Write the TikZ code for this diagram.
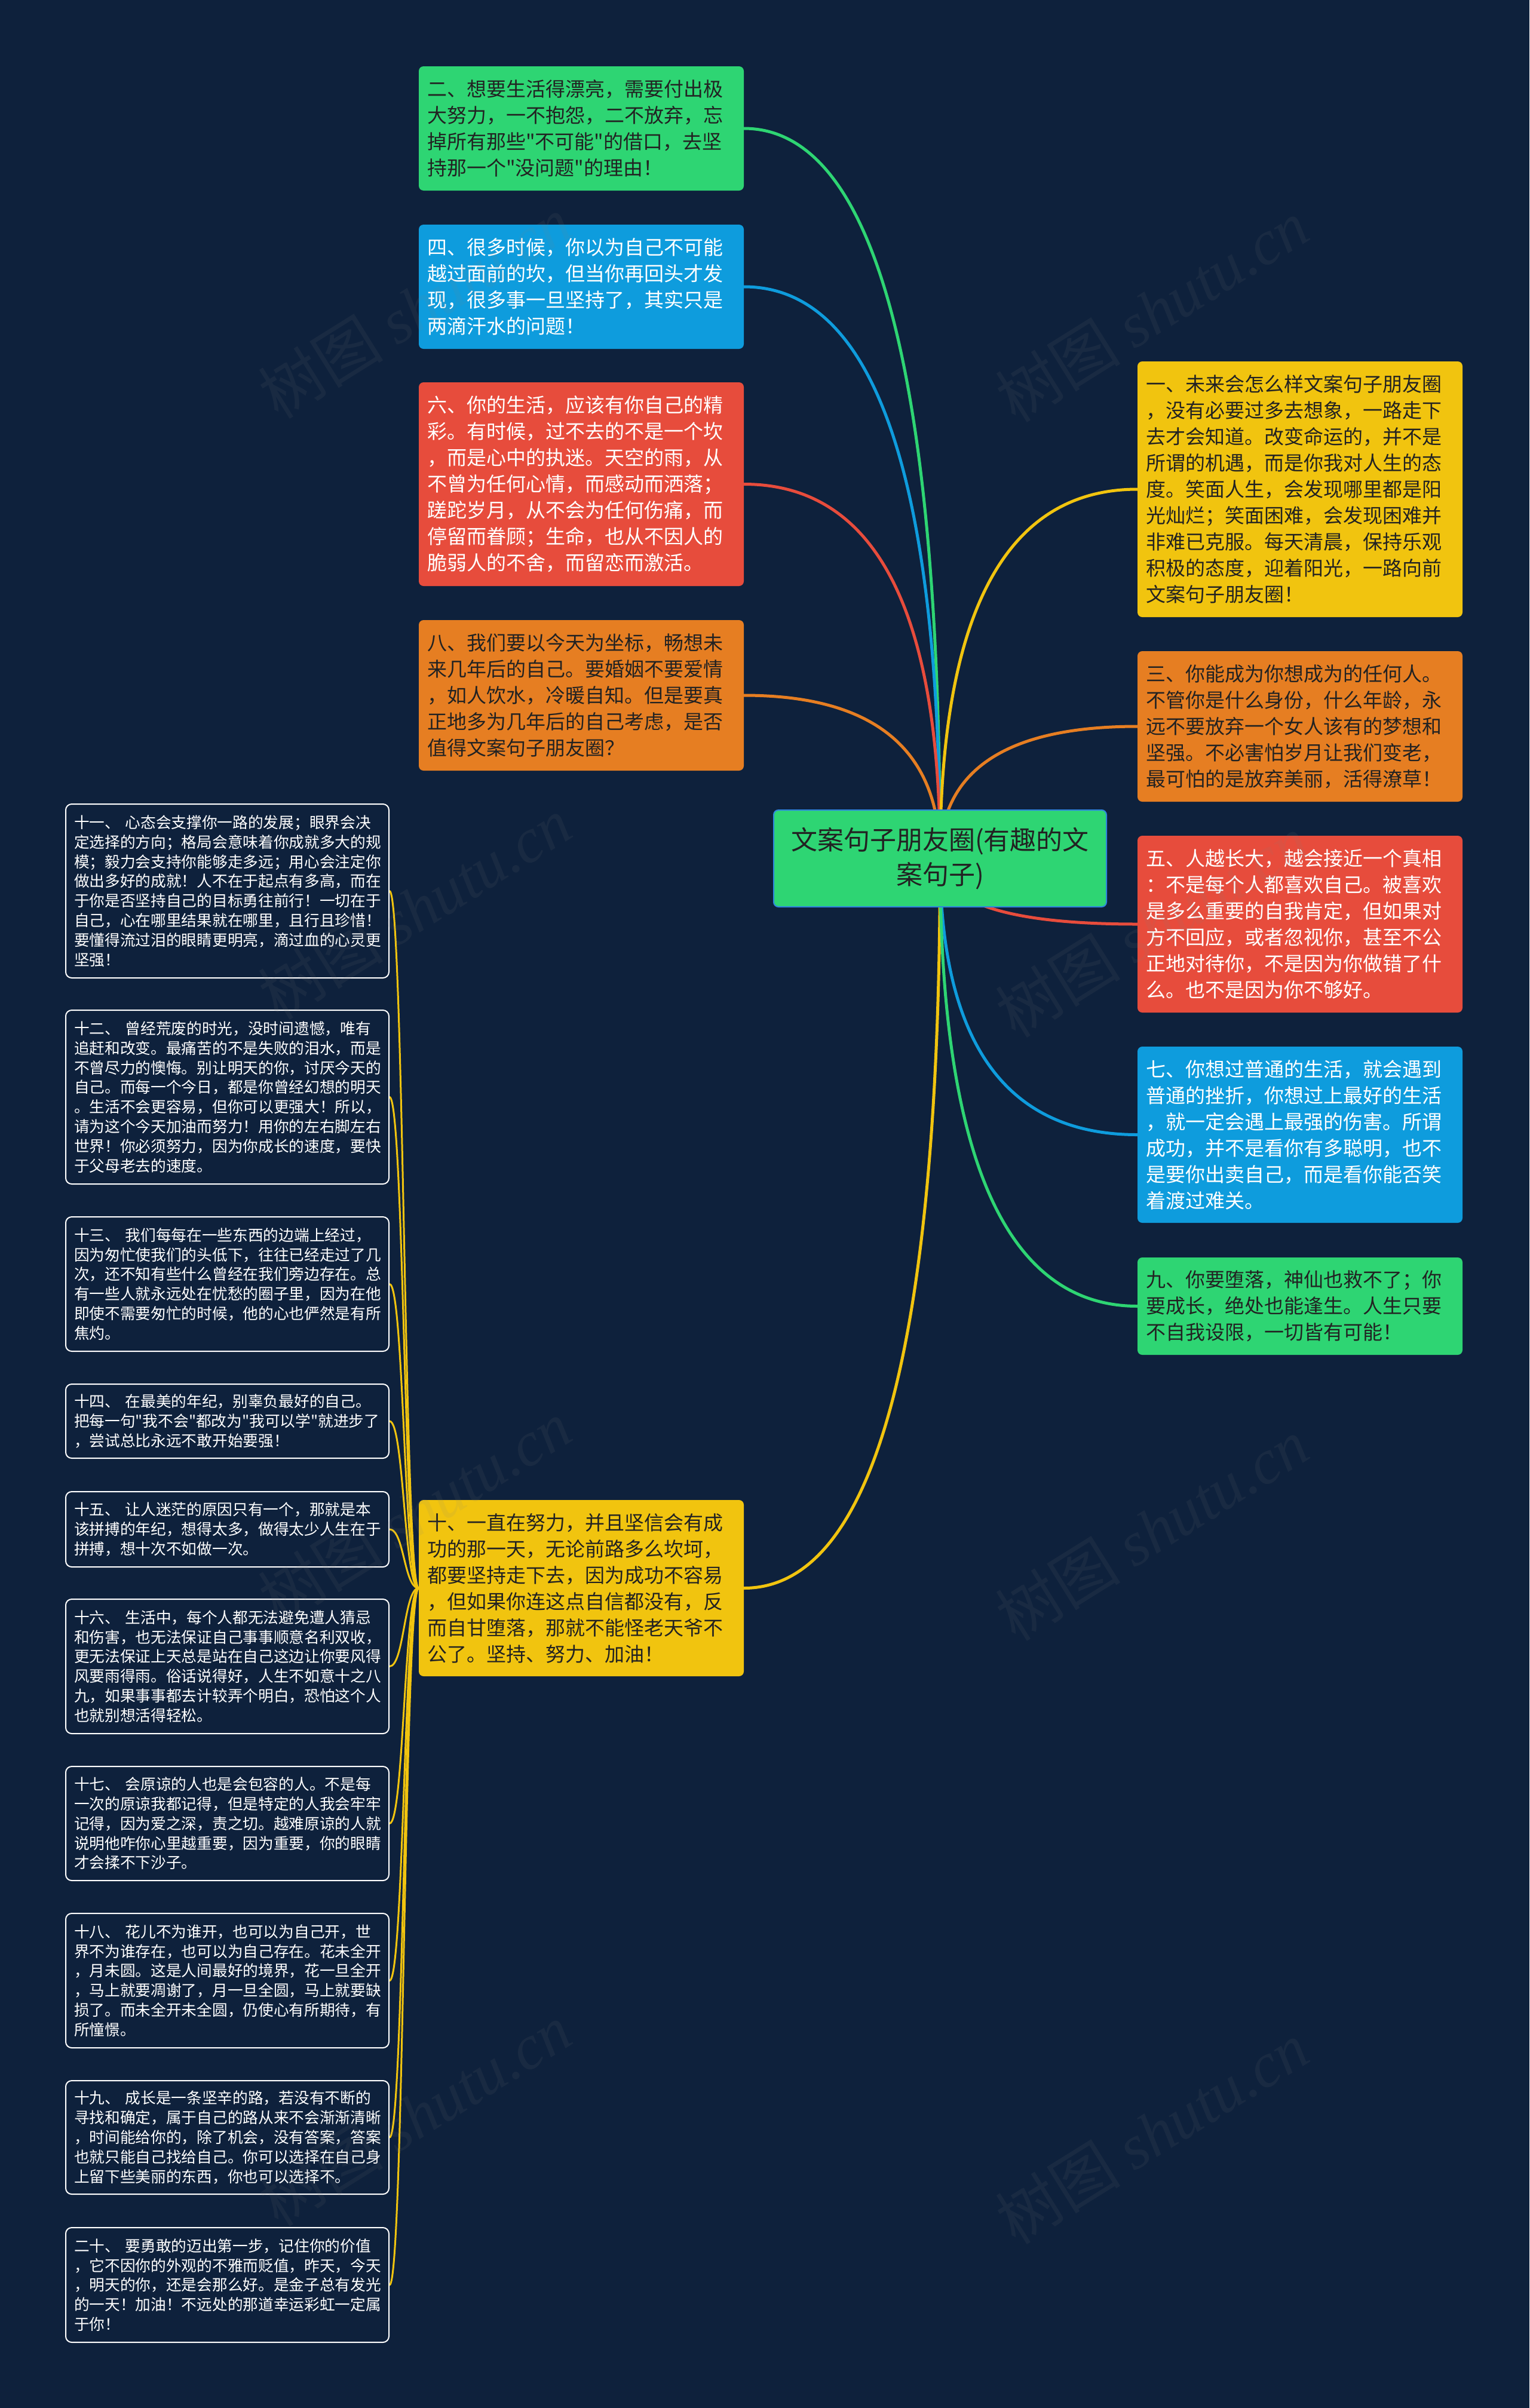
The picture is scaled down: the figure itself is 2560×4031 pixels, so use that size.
\documentclass[tikz,border=0pt]{standalone}
\usepackage{fontspec}
\newfontfamily\cjk{Noto Sans CJK SC}
\newfontfamily\wmlatin{Liberation Serif}
\usetikzlibrary{calc}
\pgfdeclarelayer{bg}
\pgfdeclarelayer{edges}
\pgfsetlayers{bg,edges,main}
\definecolor{navy}{HTML}{0E213C}
\definecolor{mgreen}{HTML}{2ED573}
\definecolor{mblue}{HTML}{0E9CDD}
\definecolor{mred}{HTML}{E74C3C}
\definecolor{morange}{HTML}{E67E22}
\definecolor{myellow}{HTML}{F1C40F}
\definecolor{darktext}{HTML}{222222}
\definecolor{rootborder}{HTML}{2E86DE}
\tikzset{
  bignode/.style={rounded corners=8pt, text width=516pt, inner xsep=14pt, inner ysep=0pt,
    align=left, font=\cjk\fontsize{33}{44}\selectfont},
  darkbox/.style={bignode, fill=#1, text=darktext},
  lightbox/.style={bignode, fill=#1, text=white},
  smallnode/.style={rounded corners=10pt, draw=white, line width=2pt, fill=navy, text=white,
    text width=513pt, inner xsep=14pt, inner ysep=0pt, align=left,
    font=\cjk\fontsize{25.7}{32.8}\selectfont},
  quadto/.style={to path={.. controls ($(\tikztostart)!0.6667!(\tikztostart |- \tikztotarget)$)
    and ($(\tikztotarget)!0.6667!(\tikztostart |- \tikztotarget)$) .. (\tikztotarget)}},
  sto/.style={to path={.. controls ($(\tikztostart)!0.5!(\tikztostart -| \tikztotarget)$)
    and ($(\tikztotarget)!0.5!(\tikztotarget -| \tikztostart)$) .. (\tikztotarget)}},
  mainedge/.style={line width=5pt, line cap=round},
  subedge/.style={line width=3pt, myellow, line cap=round},
  watermark/.style={rotate=32, text=gray, opacity=0.10, font=\cjk\fontsize{105}{110}\selectfont},
}
\begin{document}
\begin{tikzpicture}[x=1pt, y=-1pt]
\useasboundingbox (0,0) rectangle (2560,4031);
\begin{pgfonlayer}{bg}
  \fill[navy] (0,0) rectangle (2560,4031);
\end{pgfonlayer}

% root
\node[rounded corners=8pt, fill=mgreen, draw=rootborder, line width=2pt, text=darktext,
  minimum width=557pt, minimum height=162pt, align=center,
  font=\cjk\fontsize{44}{58}\selectfont] (root) at (1573.5,1437) {文案句子朋友圈(有趣的文\\案句子)};

% left main children
\node[darkbox=mgreen, minimum height=208pt] (n2) at (973,215) {二、想要生活得漂亮，需要付出极\\大努力，一不抱怨，二不放弃，忘\\掉所有那些"不可能"的借口，去坚\\持那一个"没问题"的理由！};
\node[lightbox=mblue, minimum height=208pt] (n4) at (973,480) {四、很多时候，你以为自己不可能\\越过面前的坎，但当你再回头才发\\现，很多事一旦坚持了，其实只是\\两滴汗水的问题！};
\node[lightbox=mred, minimum height=341pt] (n6) at (973,810.5) {六、你的生活，应该有你自己的精\\彩。有时候，过不去的不是一个坎\\，而是心中的执迷。天空的雨，从\\不曾为任何心情，而感动而洒落；\\蹉跎岁月，从不会为任何伤痛，而\\停留而眷顾；生命，也从不因人的\\脆弱人的不舍，而留恋而激活。};
\node[darkbox=morange, minimum height=252pt] (n8) at (973,1164) {八、我们要以今天为坐标，畅想未\\来几年后的自己。要婚姻不要爱情\\，如人饮水，冷暖自知。但是要真\\正地多为几年后的自己考虑，是否\\值得文案句子朋友圈？};
\node[darkbox=myellow, minimum height=295pt] (n10) at (973,2658.5) {十、一直在努力，并且坚信会有成\\功的那一天，无论前路多么坎坷，\\都要坚持走下去，因为成功不容易\\，但如果你连这点自信都没有，反\\而自甘堕落，那就不能怪老天爷不\\公了。坚持、努力、加油！};

% right main children
\node[darkbox=myellow, minimum height=428pt] (n1) at (2176,819) {一、未来会怎么样文案句子朋友圈\\，没有必要过多去想象，一路走下\\去才会知道。改变命运的，并不是\\所谓的机遇，而是你我对人生的态\\度。笑面人生，会发现哪里都是阳\\光灿烂；笑面困难，会发现困难并\\非难已克服。每天清晨，保持乐观\\积极的态度，迎着阳光，一路向前\\文案句子朋友圈！};
\node[darkbox=morange, minimum height=252pt] (n3) at (2176,1216) {三、你能成为你想成为的任何人。\\不管你是什么身份，什么年龄，永\\远不要放弃一个女人该有的梦想和\\坚强。不必害怕岁月让我们变老，\\最可怕的是放弃美丽，活得潦草！};
\node[lightbox=mred, minimum height=296pt] (n5) at (2176,1547) {五、人越长大，越会接近一个真相\\：不是每个人都喜欢自己。被喜欢\\是多么重要的自我肯定，但如果对\\方不回应，或者忽视你，甚至不公\\正地对待你，不是因为你做错了什\\么。也不是因为你不够好。};
\node[lightbox=mblue, minimum height=295pt] (n7) at (2176,1899.5) {七、你想过普通的生活，就会遇到\\普通的挫折，你想过上最好的生活\\，就一定会遇上最强的伤害。所谓\\成功，并不是看你有多聪明，也不\\是要你出卖自己，而是看你能否笑\\着渡过难关。};
\node[darkbox=mgreen, minimum height=163pt] (n9) at (2176,2186.5) {九、你要堕落，神仙也救不了；你\\要成长，绝处也能逢生。人生只要\\不自我设限，一切皆有可能！};

% small children of n10
\node[smallnode, minimum height=291pt] (s11) at (380.5,1491.5) {十一、 心态会支撑你一路的发展；眼界会决\\定选择的方向；格局会意味着你成就多大的规\\模；毅力会支持你能够走多远；用心会注定你\\做出多好的成就！人不在于起点有多高，而在\\于你是否坚持自己的目标勇往前行！一切在于\\自己，心在哪里结果就在哪里，且行且珍惜！\\要懂得流过泪的眼睛更明亮，滴过血的心灵更\\坚强！};
\node[smallnode, minimum height=291pt] (s12) at (380.5,1836.5) {十二、 曾经荒废的时光，没时间遗憾，唯有\\追赶和改变。最痛苦的不是失败的泪水，而是\\不曾尽力的懊悔。别让明天的你，讨厌今天的\\自己。而每一个今日，都是你曾经幻想的明天\\。生活不会更容易，但你可以更强大！所以，\\请为这个今天加油而努力！用你的左右脚左右\\世界！你必须努力，因为你成长的速度，要快\\于父母老去的速度。};
\node[smallnode, minimum height=225pt] (s13) at (380.5,2149.5) {十三、 我们每每在一些东西的边端上经过，\\因为匆忙使我们的头低下，往往已经走过了几\\次，还不知有些什么曾经在我们旁边存在。总\\有一些人就永远处在忧愁的圈子里，因为在他\\即使不需要匆忙的时候，他的心也俨然是有所\\焦灼。};
\node[smallnode, minimum height=124pt] (s14) at (380.5,2379) {十四、 在最美的年纪，别辜负最好的自己。\\把每一句"我不会"都改为"我可以学"就进步了\\，尝试总比永远不敢开始要强！};
\node[smallnode, minimum height=126pt] (s15) at (380.5,2560) {十五、 让人迷茫的原因只有一个，那就是本\\该拼搏的年纪，想得太多，做得太少人生在于\\拼搏，想十次不如做一次。};
\node[smallnode, minimum height=225pt] (s16) at (380.5,2789.5) {十六、 生活中，每个人都无法避免遭人猜忌\\和伤害，也无法保证自己事事顺意名利双收，\\更无法保证上天总是站在自己这边让你要风得\\风要雨得雨。俗话说得好，人生不如意十之八\\九，如果事事都去计较弄个明白，恐怕这个人\\也就别想活得轻松。};
\node[smallnode, minimum height=191pt] (s17) at (380.5,3052.5) {十七、 会原谅的人也是会包容的人。不是每\\一次的原谅我都记得，但是特定的人我会牢牢\\记得，因为爱之深，责之切。越难原谅的人就\\说明他咋你心里越重要，因为重要，你的眼睛\\才会揉不下沙子。};
\node[smallnode, minimum height=225pt] (s18) at (380.5,3315.5) {十八、 花儿不为谁开，也可以为自己开，世\\界不为谁存在，也可以为自己存在。花未全开\\，月未圆。这是人间最好的境界，花一旦全开\\，马上就要凋谢了，月一旦全圆，马上就要缺\\损了。而未全开未全圆，仍使心有所期待，有\\所憧憬。};
\node[smallnode, minimum height=190pt] (s19) at (380.5,3578) {十九、 成长是一条坚辛的路，若没有不断的\\寻找和确定，属于自己的路从来不会渐渐清晰\\，时间能给你的，除了机会，没有答案，答案\\也就只能自己找给自己。你可以选择在自己身\\上留下些美丽的东西，你也可以选择不。};
\node[smallnode, minimum height=192pt] (s20) at (380.5,3825) {二十、 要勇敢的迈出第一步，记住你的价值\\，它不因你的外观的不雅而贬值，昨天，今天\\，明天的你，还是会那么好。是金子总有发光\\的一天！加油！不远处的那道幸运彩虹一定属\\于你！};

% connectors
\begin{pgfonlayer}{edges}
  \draw[mainedge, mgreen]  (root.center) to[quadto] (n2.east);
  \draw[mainedge, mblue]   (root.center) to[quadto] (n4.east);
  \draw[mainedge, mred]    (root.center) to[quadto] (n6.east);
  \draw[mainedge, morange] (root.center) to[quadto] (n8.east);
  \draw[mainedge, myellow] (root.center) to[quadto] (n10.east);
  \draw[mainedge, myellow] (root.center) to[quadto] (n1.west);
  \draw[mainedge, morange] (root.center) to[quadto] (n3.west);
  \draw[mainedge, mred]    (root.center) to[quadto] (n5.west);
  \draw[mainedge, mblue]   (root.center) to[quadto] (n7.west);
  \draw[mainedge, mgreen]  (root.center) to[quadto] (n9.west);
  \foreach \s in {s11,s12,s13,s14,s15,s16,s17,s18,s19,s20}
    \draw[subedge] (n10.west) to[sto] (\s.east);
\end{pgfonlayer}

% watermarks
\foreach \wx/\wy [count=\i] in {694/514, 1928/520, 694/1520, 1928/1550, 694/2530, 1928/2560, 694/3540, 1928/3570}
  \node[watermark] (wm\i) at (\wx,\wy) {树图 {\wmlatin\itshape shutu.cn}};
\end{tikzpicture}
\end{document}
